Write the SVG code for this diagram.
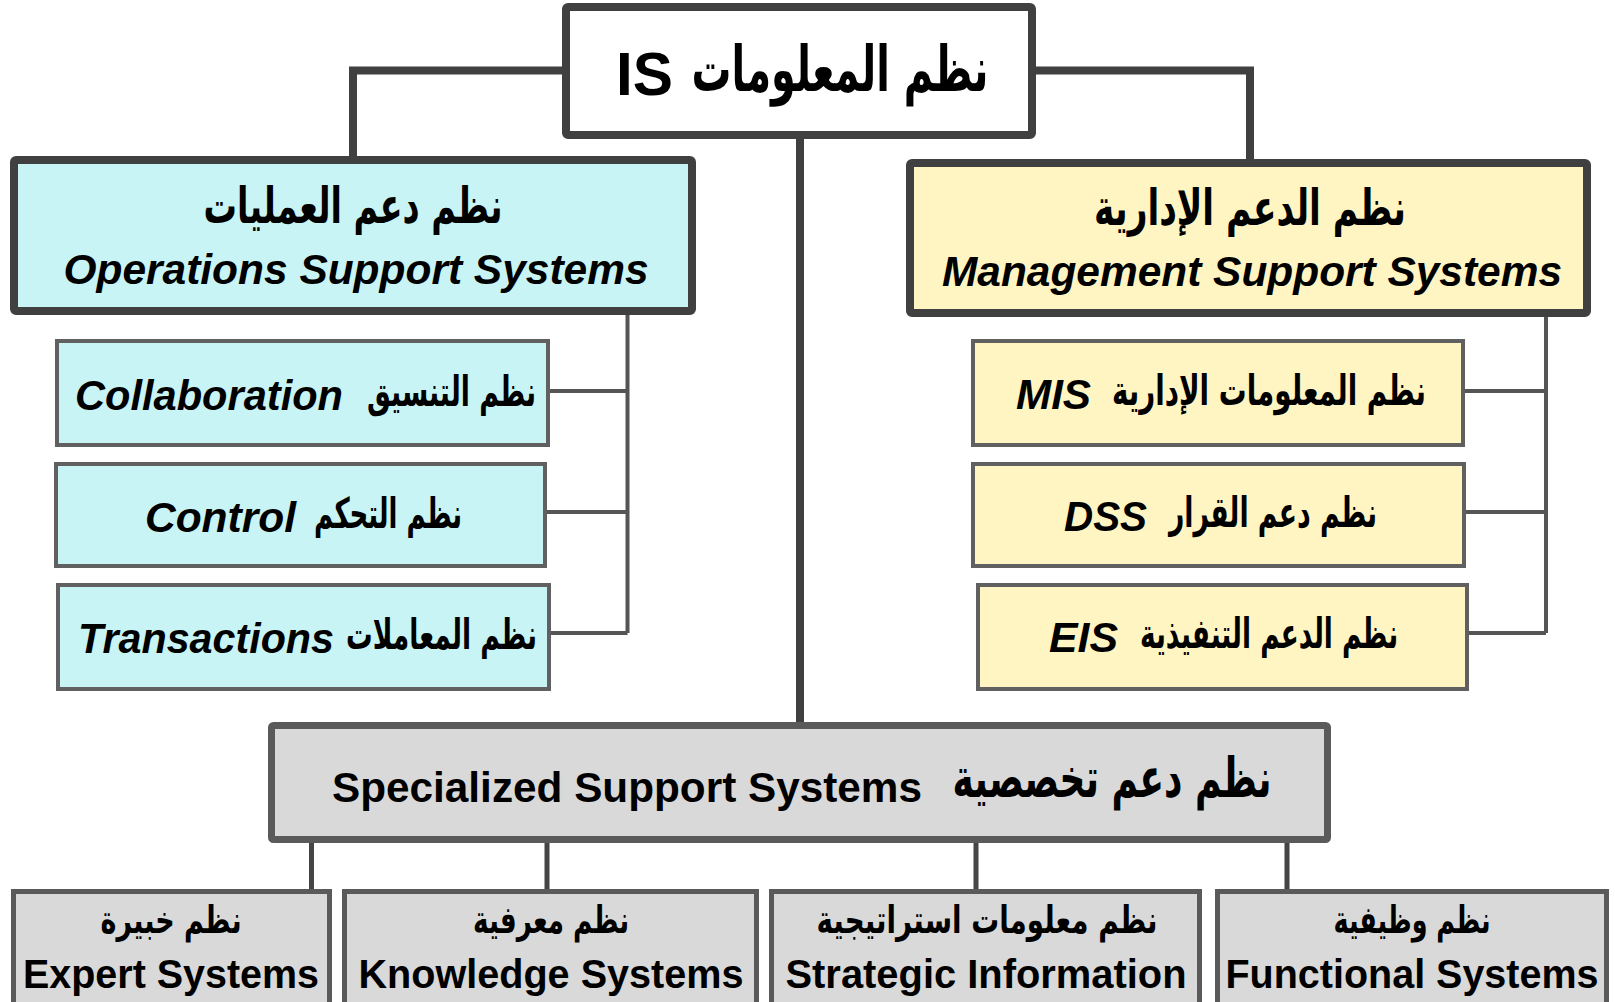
<svg xmlns="http://www.w3.org/2000/svg" width="1615" height="1002" viewBox="0 0 1615 1002">
<style>
.en{font-family:"Liberation Sans",Arial,sans-serif;font-weight:bold;fill:#000}
.it{font-style:italic}
.ar{font-family:"DejaVu Sans","Noto Sans",sans-serif;font-weight:bold;fill:#000}
.main{stroke:#404040;stroke-width:8}
.sub{stroke:#606060;stroke-width:4}
.spec{stroke:#5a5a5a;stroke-width:7}
.bot{stroke:#5a5a5a;stroke-width:5}
.cyan{fill:#C8F4F5}
.yel{fill:#FFF5C3}
.gry{fill:#D9D9D9}
.c1{fill:none;stroke:#404040;stroke-width:8}
.c2{fill:none;stroke:#555;stroke-width:4}
.c3{fill:none;stroke:#454545;stroke-width:5}
</style>
<rect width="1615" height="1002" fill="#fff"/>
<g id="connectors">
<path class="c1" d="M562 70.5H353V156"/>
<path class="c1" d="M1036 70.5H1250V159"/>
<path class="c1" d="M800 139V722"/>
<path class="c2" d="M627.5 315V633M550 391H627.5M547 512H627.5M551 633H627.5"/>
<path class="c2" d="M1546 317V633M1465 391H1546M1466 512H1546M1469 633H1546"/>
<path class="c3" d="M311.5 843V891M547 843V891M976 843V891M1287 843V891"/>
</g>
<g id="root">
<rect x="566" y="7" width="466" height="128" rx="2" fill="#fff" class="main"/>
<text class="en" x="616" y="95" font-size="62" textLength="57" lengthAdjust="spacingAndGlyphs">IS</text>
<text class="ar" x="840" y="91" font-size="63" text-anchor="middle" textLength="297" lengthAdjust="spacingAndGlyphs">نظم المعلومات</text>
</g>
<g id="ops">
<rect x="14" y="160" width="678" height="151" rx="2" class="main cyan"/>
<text class="ar" x="353" y="223" font-size="50" text-anchor="middle" textLength="299" lengthAdjust="spacingAndGlyphs">نظم دعم العمليات</text>
<text class="en it" x="356" y="284" font-size="43" text-anchor="middle" textLength="585" lengthAdjust="spacingAndGlyphs">Operations Support Systems</text>
</g>
<g id="mgmt">
<rect x="910" y="163" width="677" height="150" rx="2" class="main yel"/>
<text class="ar" x="1250" y="225" font-size="50" text-anchor="middle" textLength="312" lengthAdjust="spacingAndGlyphs">نظم الدعم الإدارية</text>
<text class="en it" x="1252" y="286" font-size="43" text-anchor="middle" textLength="620" lengthAdjust="spacingAndGlyphs">Management Support Systems</text>
</g>
<g id="collab">
<rect x="57" y="341" width="491" height="104" class="sub cyan"/>
<text class="en it" x="75" y="410" font-size="43" textLength="268" lengthAdjust="spacingAndGlyphs">Collaboration</text>
<text class="ar" x="451.5" y="406" font-size="42" text-anchor="middle" textLength="169" lengthAdjust="spacingAndGlyphs">نظم التنسيق</text>
</g>
<g id="control">
<rect x="56" y="464" width="489" height="102" class="sub cyan"/>
<text class="en it" x="145" y="532" font-size="43" textLength="151" lengthAdjust="spacingAndGlyphs">Control</text>
<text class="ar" x="388" y="528" font-size="42" text-anchor="middle" textLength="148" lengthAdjust="spacingAndGlyphs">نظم التحكم</text>
</g>
<g id="trans">
<rect x="58" y="585" width="491" height="104" class="sub cyan"/>
<text class="en it" x="78" y="653" font-size="43" textLength="256" lengthAdjust="spacingAndGlyphs">Transactions</text>
<text class="ar" x="441.5" y="649" font-size="42" text-anchor="middle" textLength="191" lengthAdjust="spacingAndGlyphs">نظم المعاملات</text>
</g>
<g id="mis">
<rect x="973" y="341" width="490" height="104" class="sub yel"/>
<text class="en it" x="1016" y="409" font-size="43" textLength="75" lengthAdjust="spacingAndGlyphs">MIS</text>
<text class="ar" x="1269" y="405" font-size="42" text-anchor="middle" textLength="314" lengthAdjust="spacingAndGlyphs">نظم المعلومات الإدارية</text>
</g>
<g id="dss">
<rect x="973" y="464" width="491" height="102" class="sub yel"/>
<text class="en it" x="1064" y="531" font-size="43" textLength="83" lengthAdjust="spacingAndGlyphs">DSS</text>
<text class="ar" x="1273" y="527" font-size="42" text-anchor="middle" textLength="208" lengthAdjust="spacingAndGlyphs">نظم دعم القرار</text>
</g>
<g id="eis">
<rect x="978" y="585" width="489" height="104" class="sub yel"/>
<text class="en it" x="1049" y="652" font-size="43" textLength="69" lengthAdjust="spacingAndGlyphs">EIS</text>
<text class="ar" x="1269" y="648" font-size="42" text-anchor="middle" textLength="258" lengthAdjust="spacingAndGlyphs">نظم الدعم التنفيذية</text>
</g>
<g id="special">
<rect x="271.5" y="725.5" width="1056" height="114" rx="2" class="spec gry"/>
<text class="en" x="332" y="802" font-size="43" textLength="590" lengthAdjust="spacingAndGlyphs">Specialized Support Systems</text>
<text class="ar" x="1112" y="797" font-size="55" text-anchor="middle" textLength="319" lengthAdjust="spacingAndGlyphs">نظم دعم تخصصية</text>
</g>
<g id="expert">
<rect x="13.5" y="891.5" width="316" height="130" class="bot gry"/>
<text class="ar" x="171" y="933" font-size="38" text-anchor="middle" textLength="141" lengthAdjust="spacingAndGlyphs">نظم خبيرة</text>
<text class="en" x="171" y="988" font-size="41" text-anchor="middle" textLength="296" lengthAdjust="spacingAndGlyphs">Expert Systems</text>
</g>
<g id="knowledge">
<rect x="344.5" y="891.5" width="412" height="130" class="bot gry"/>
<text class="ar" x="551" y="933" font-size="38" text-anchor="middle" textLength="156" lengthAdjust="spacingAndGlyphs">نظم معرفية</text>
<text class="en" x="551" y="988" font-size="41" text-anchor="middle" textLength="385" lengthAdjust="spacingAndGlyphs">Knowledge Systems</text>
</g>
<g id="strategic">
<rect x="771.5" y="891.5" width="428" height="130" class="bot gry"/>
<text class="ar" x="987" y="933" font-size="38" text-anchor="middle" textLength="341" lengthAdjust="spacingAndGlyphs">نظم معلومات استراتيجية</text>
<text class="en" x="986" y="988" font-size="41" text-anchor="middle" textLength="401" lengthAdjust="spacingAndGlyphs">Strategic Information</text>
</g>
<g id="functional">
<rect x="1217.5" y="891.5" width="389" height="130" class="bot gry"/>
<text class="ar" x="1412" y="933" font-size="38" text-anchor="middle" textLength="157" lengthAdjust="spacingAndGlyphs">نظم وظيفية</text>
<text class="en" x="1412" y="988" font-size="41" text-anchor="middle" textLength="373" lengthAdjust="spacingAndGlyphs">Functional Systems</text>
</g>
</svg>
